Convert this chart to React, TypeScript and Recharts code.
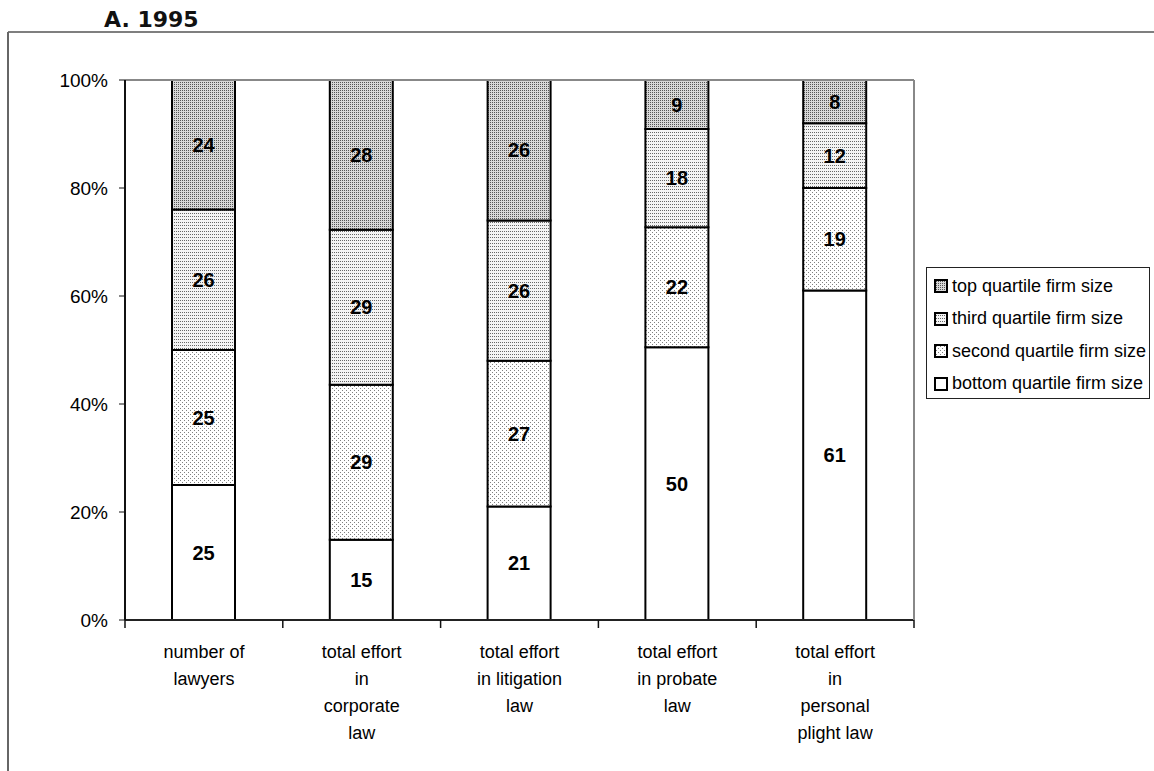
import React from 'react';
import { BarChart, Bar, XAxis, YAxis, Legend, LabelList } from 'recharts';

const categories = [
  'number of\nlawyers',
  'total effort\nin\ncorporate\nlaw',
  'total effort\nin litigation\nlaw',
  'total effort\nin probate\nlaw',
  'total effort\nin\npersonal\nplight law',
];
const bottomQuartile = [25, 15, 21, 50, 61];
const secondQuartile = [25, 29, 27, 22, 19];
const thirdQuartile = [26, 29, 26, 18, 12];
const topQuartile = [24, 28, 26, 9, 8];
const yTicks = [0, 0.2, 0.4, 0.6, 0.8, 1];

const series = [
  { key: 'bottom', name: 'bottom quartile firm size', fill: '#ffffff' },
  { key: 'second', name: 'second quartile firm size', fill: 'url(#patSecond)' },
  { key: 'third', name: 'third quartile firm size', fill: 'url(#patThird)' },
  { key: 'top', name: 'top quartile firm size', fill: 'url(#patTop)' },
];

const data = categories.map((c, i) => ({
  category: c,
  bottom: bottomQuartile[i],
  second: secondQuartile[i],
  third: thirdQuartile[i],
  top: topQuartile[i],
}));

const FONT = '"Liberation Sans", Arial, sans-serif';

const CategoryTick = (props: any) => {
  const { x, y, payload, index, visibleTicksCount } = props;
  const lines = String(payload.value).split('\n');
  const half = typeof payload.offset === 'number' ? payload.offset : 0;
  const isLast = index === visibleTicksCount - 1;
  return (
    <g transform={`translate(${x},${y})`}>
      {half > 0 && <line x1={-half} y1={0} x2={-half} y2={8} stroke="#111" strokeWidth={1.5} />}
      {half > 0 && isLast && <line x1={half} y1={0} x2={half} y2={8} stroke="#111" strokeWidth={1.5} />}
      {lines.map((l: string, i: number) => (
        <text key={i} x={0} y={38 + i * 27} textAnchor="middle" fontFamily={FONT} fontSize={18} fill="#000">
          {l}
        </text>
      ))}
    </g>
  );
};

const LegendBox = () => (
  <div
    style={{
      width: 224,
      height: 132,
      border: '1px solid #222',
      boxSizing: 'border-box',
      background: '#fff',
      paddingTop: 2,
      paddingLeft: 7,
    }}
  >
    {[...series].reverse().map((s) => (
      <div key={s.key} style={{ display: 'flex', alignItems: 'center', height: 32.5 }}>
        <svg width={14} height={14} style={{ marginRight: 4 }}>
          <rect x={1} y={1} width={12} height={12} fill={s.fill} stroke="#000" strokeWidth={2} />
        </svg>
        <span style={{ fontFamily: FONT, fontSize: 18, color: '#000', whiteSpace: 'nowrap' }}>{s.name}</span>
      </div>
    ))}
  </div>
);

export default function App() {
  return (
    <div style={{ position: 'absolute', left: 0, top: 0, width: 1154, height: 771, background: '#fff' }}>
      <svg width={1154} height={771} style={{ position: 'absolute', left: 0, top: 0 }}>
        <defs>
          <pattern id="patTop" width={2} height={2} patternUnits="userSpaceOnUse">
            <rect width={2} height={2} fill="#d8d8d8" />
            <rect x={0} y={0} width={1} height={1} fill="#555555" />
          </pattern>
          <pattern id="patThird" width={2} height={3} patternUnits="userSpaceOnUse">
            <rect width={2} height={3} fill="#f4f4f4" />
            <rect x={0} y={0} width={1} height={1} fill="#666666" />
          </pattern>
          <pattern id="patSecond" width={4} height={4} patternUnits="userSpaceOnUse">
            <rect width={4} height={4} fill="#ffffff" />
            <rect x={0} y={0} width={1} height={1} fill="#808080" />
            <rect x={2} y={2} width={1} height={1} fill="#808080" />
          </pattern>
        </defs>
        <text x={104} y={27} fontFamily='"DejaVu Sans", sans-serif' fontWeight="bold" fontSize={22} fill="#111">
          A. 1995
        </text>
        <line x1={8} y1={32} x2={1154} y2={32} stroke="#555" strokeWidth={1.5} />
        <line x1={8} y1={32} x2={8} y2={771} stroke="#666" strokeWidth={2} />
      </svg>
      <div style={{ position: 'absolute', left: 0, top: 0 }}>
        <BarChart
          width={1154}
          height={771}
          data={data}
          stackOffset="expand"
          margin={{ top: 79, right: 239, bottom: 150, left: 0 }}
          barSize={63}
        >
          <XAxis
            xAxisId="t"
            orientation="top"
            type="number"
            domain={[0, 1]}
            height={1}
            tick={false}
            tickLine={false}
            axisLine={{ stroke: '#888', strokeWidth: 2 }}
          />
          <XAxis
            xAxisId="c"
            dataKey="category"
            height={1}
            interval={0}
            axisLine={{ stroke: '#222', strokeWidth: 2 }}
            tickLine={false}
            tickSize={0}
            tickMargin={0}
            tick={<CategoryTick />}
          />
          <YAxis
            domain={[0, 1]}
            ticks={yTicks}
            width={125}
            tickSize={6}
            tickMargin={11}
            tickFormatter={(v: number) => `${Math.round(v * 100)}%`}
            tick={{ fontFamily: FONT, fontSize: 19, fill: '#000' }}
            tickLine={{ stroke: '#111' }}
            axisLine={{ stroke: '#111', strokeWidth: 2 }}
          />
          <YAxis
            yAxisId="r"
            orientation="right"
            domain={[0, 1]}
            width={1}
            tick={false}
            tickLine={false}
            axisLine={{ stroke: '#888', strokeWidth: 2 }}
          />
          {series.map((s) => (
            <Bar
              key={s.key}
              dataKey={s.key}
              name={s.name}
              stackId="a"
              xAxisId="c"
              fill={s.fill}
              stroke="#000"
              strokeWidth={2}
              isAnimationActive={false}
            >
              <LabelList
                dataKey={s.key}
                position="center"
                fill="#000"
                fontFamily={FONT}
                fontWeight="bold"
                fontSize={20}
              />
            </Bar>
          ))}
          <Legend
            layout="vertical"
            align="center"
            verticalAlign="middle"
            wrapperStyle={{ left: 926, top: 267, width: 224, height: 132 }}
            content={() => <LegendBox />}
          />
        </BarChart>
      </div>
    </div>
  );
}
